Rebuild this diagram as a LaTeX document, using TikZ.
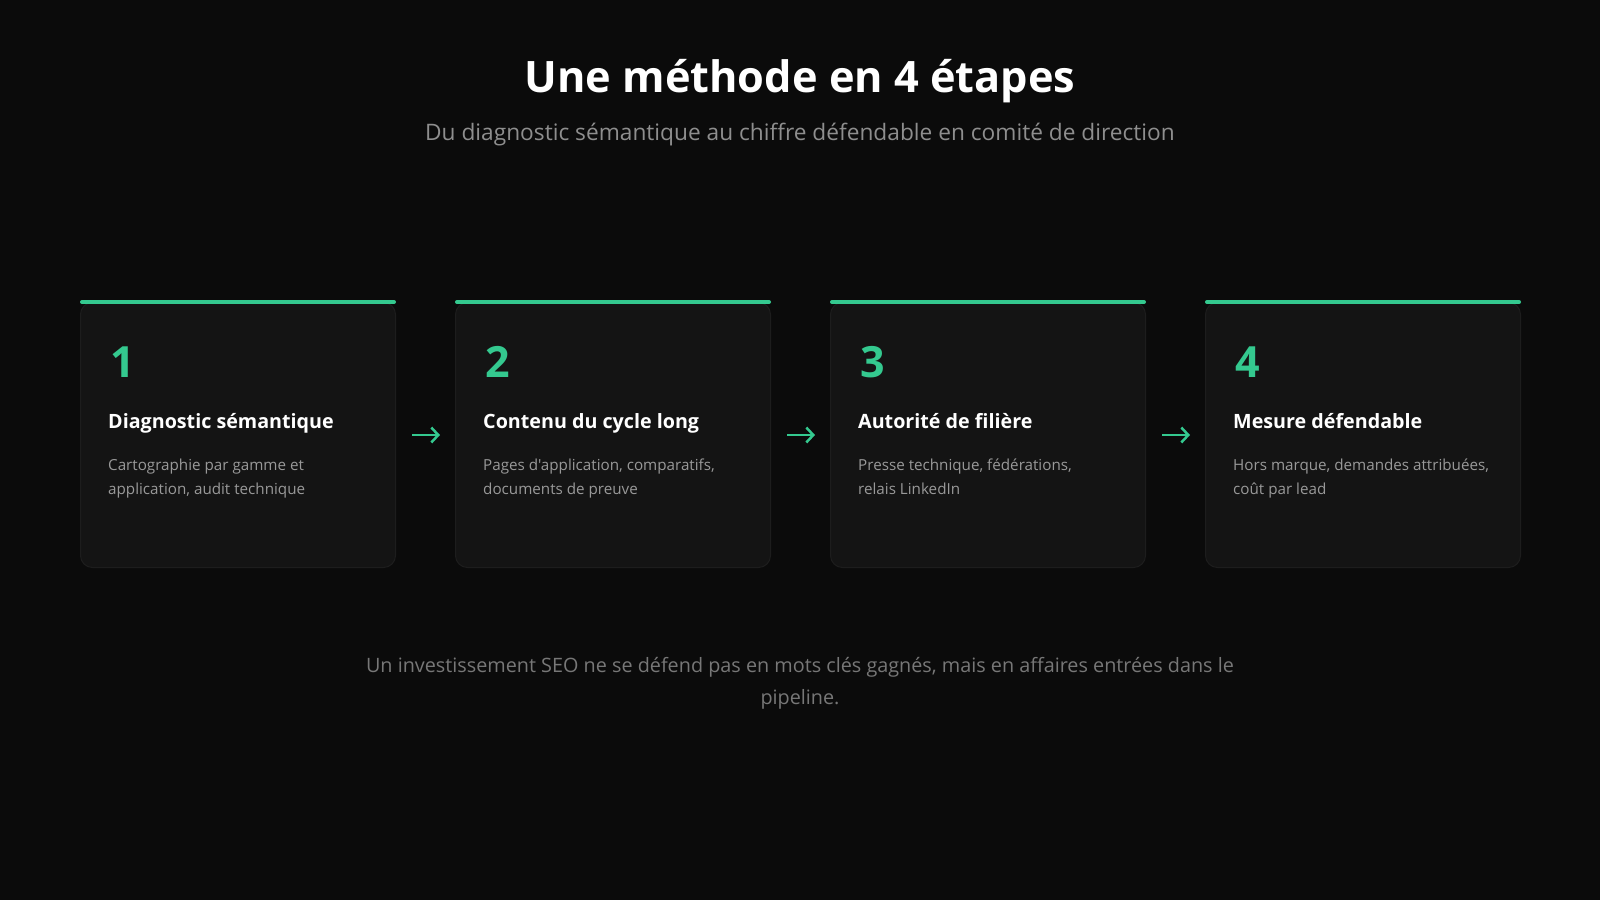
\documentclass[tikz,border=0pt]{standalone}
\usepackage{fontspec}
\setmainfont{Open Sans}[Ligatures=TeXOff]
\usetikzlibrary{arrows.meta}

\definecolor{bgdark}{HTML}{0B0B0B}
\definecolor{cardfill}{HTML}{141414}
\definecolor{cardline}{HTML}{1D1D1D}
\definecolor{accent}{HTML}{34C98F}
\definecolor{subgray}{HTML}{8E8E8E}
\definecolor{descgray}{HTML}{999999}
\definecolor{notegray}{HTML}{777777}

\tikzset{
  card/.style={draw=cardline, fill=cardfill, rounded corners=12pt, line width=1pt,
    minimum width=315pt, minimum height=265pt, inner sep=0pt},
  topbar/.style={draw=accent, line width=4pt, line cap=round, shorten <=2pt, shorten >=2pt},
  stepnum/.style={anchor=base west, inner sep=0pt, text=accent,
    font=\bfseries\fontsize{43}{45}\selectfont},
  steptitle/.style={anchor=base west, inner sep=0pt, text=white,
    font=\bfseries\fontsize{19.7}{23}\selectfont},
  stepdesc/.style={anchor=base west, inner sep=0pt, text=descgray, align=left,
    font=\fontsize{15.2}{23.5}\selectfont},
  flow/.style={draw=accent, line width=2.5pt, -{Straight Barb[length=7pt,width=15pt]}},
}

\begin{document}
\begin{tikzpicture}[x=1pt, y=-1pt]
  % page and background
  \fill[bgdark] (0,0) rectangle (1600,900);
  \useasboundingbox (0,0) rectangle (1600,900);

  % heading
  \node[anchor=base, inner sep=0pt, text=white, font=\bfseries\fontsize{43.3}{47}\selectfont]
    (title) at (800,92) {Une méthode en 4 étapes};
  \node[anchor=base, inner sep=0pt, text=subgray, font=\fontsize{22.7}{26}\selectfont]
    (subtitle) at (800,140) {Du diagnostic sémantique au chiffre défendable en comité de direction};

  % the four cards
  \foreach \x/\n/\name/\head/\descA/\descB in {
      80/1/card1/{Diagnostic sémantique}/{Cartographie par gamme et}/{application, audit technique},
      455/2/card2/{Contenu du cycle long}/{Pages d'application, comparatifs,}/{documents de preuve},
      830/3/card3/{Autorité de filière}/{Presse technique, fédérations,}/{relais LinkedIn},
      1205/4/card4/{Mesure défendable}/{Hors marque, demandes attribuées,}/{coût par lead}} {
    \node[card, anchor=north west] (\name) at (\x,302) {};
    \draw[topbar] (\name.north west) -- (\name.north east);
    \node[stepnum] (num\n) at (\x+30,377) {\n};
    \node[steptitle] (head\n) at (\x+28,428) {\head};
    \node[stepdesc] (desc\n) at (\x+28,494) {\descA\\\descB};
  }

  % arrows between the cards
  \draw[flow] ([xshift=16pt]card1.east) -- ([xshift=-15pt]card2.west);
  \draw[flow] ([xshift=16pt]card2.east) -- ([xshift=-15pt]card3.west);
  \draw[flow] ([xshift=16pt]card3.east) -- ([xshift=-15pt]card4.west);

  % closing note
  \node[anchor=base, inner sep=0pt, text=notegray, align=center,
    font=\fontsize{19.8}{32}\selectfont] (note) at (800,704)
    {Un investissement SEO ne se défend pas en mots clés gagnés, mais en affaires entrées dans le\\pipeline.};
\end{tikzpicture}
\end{document}
